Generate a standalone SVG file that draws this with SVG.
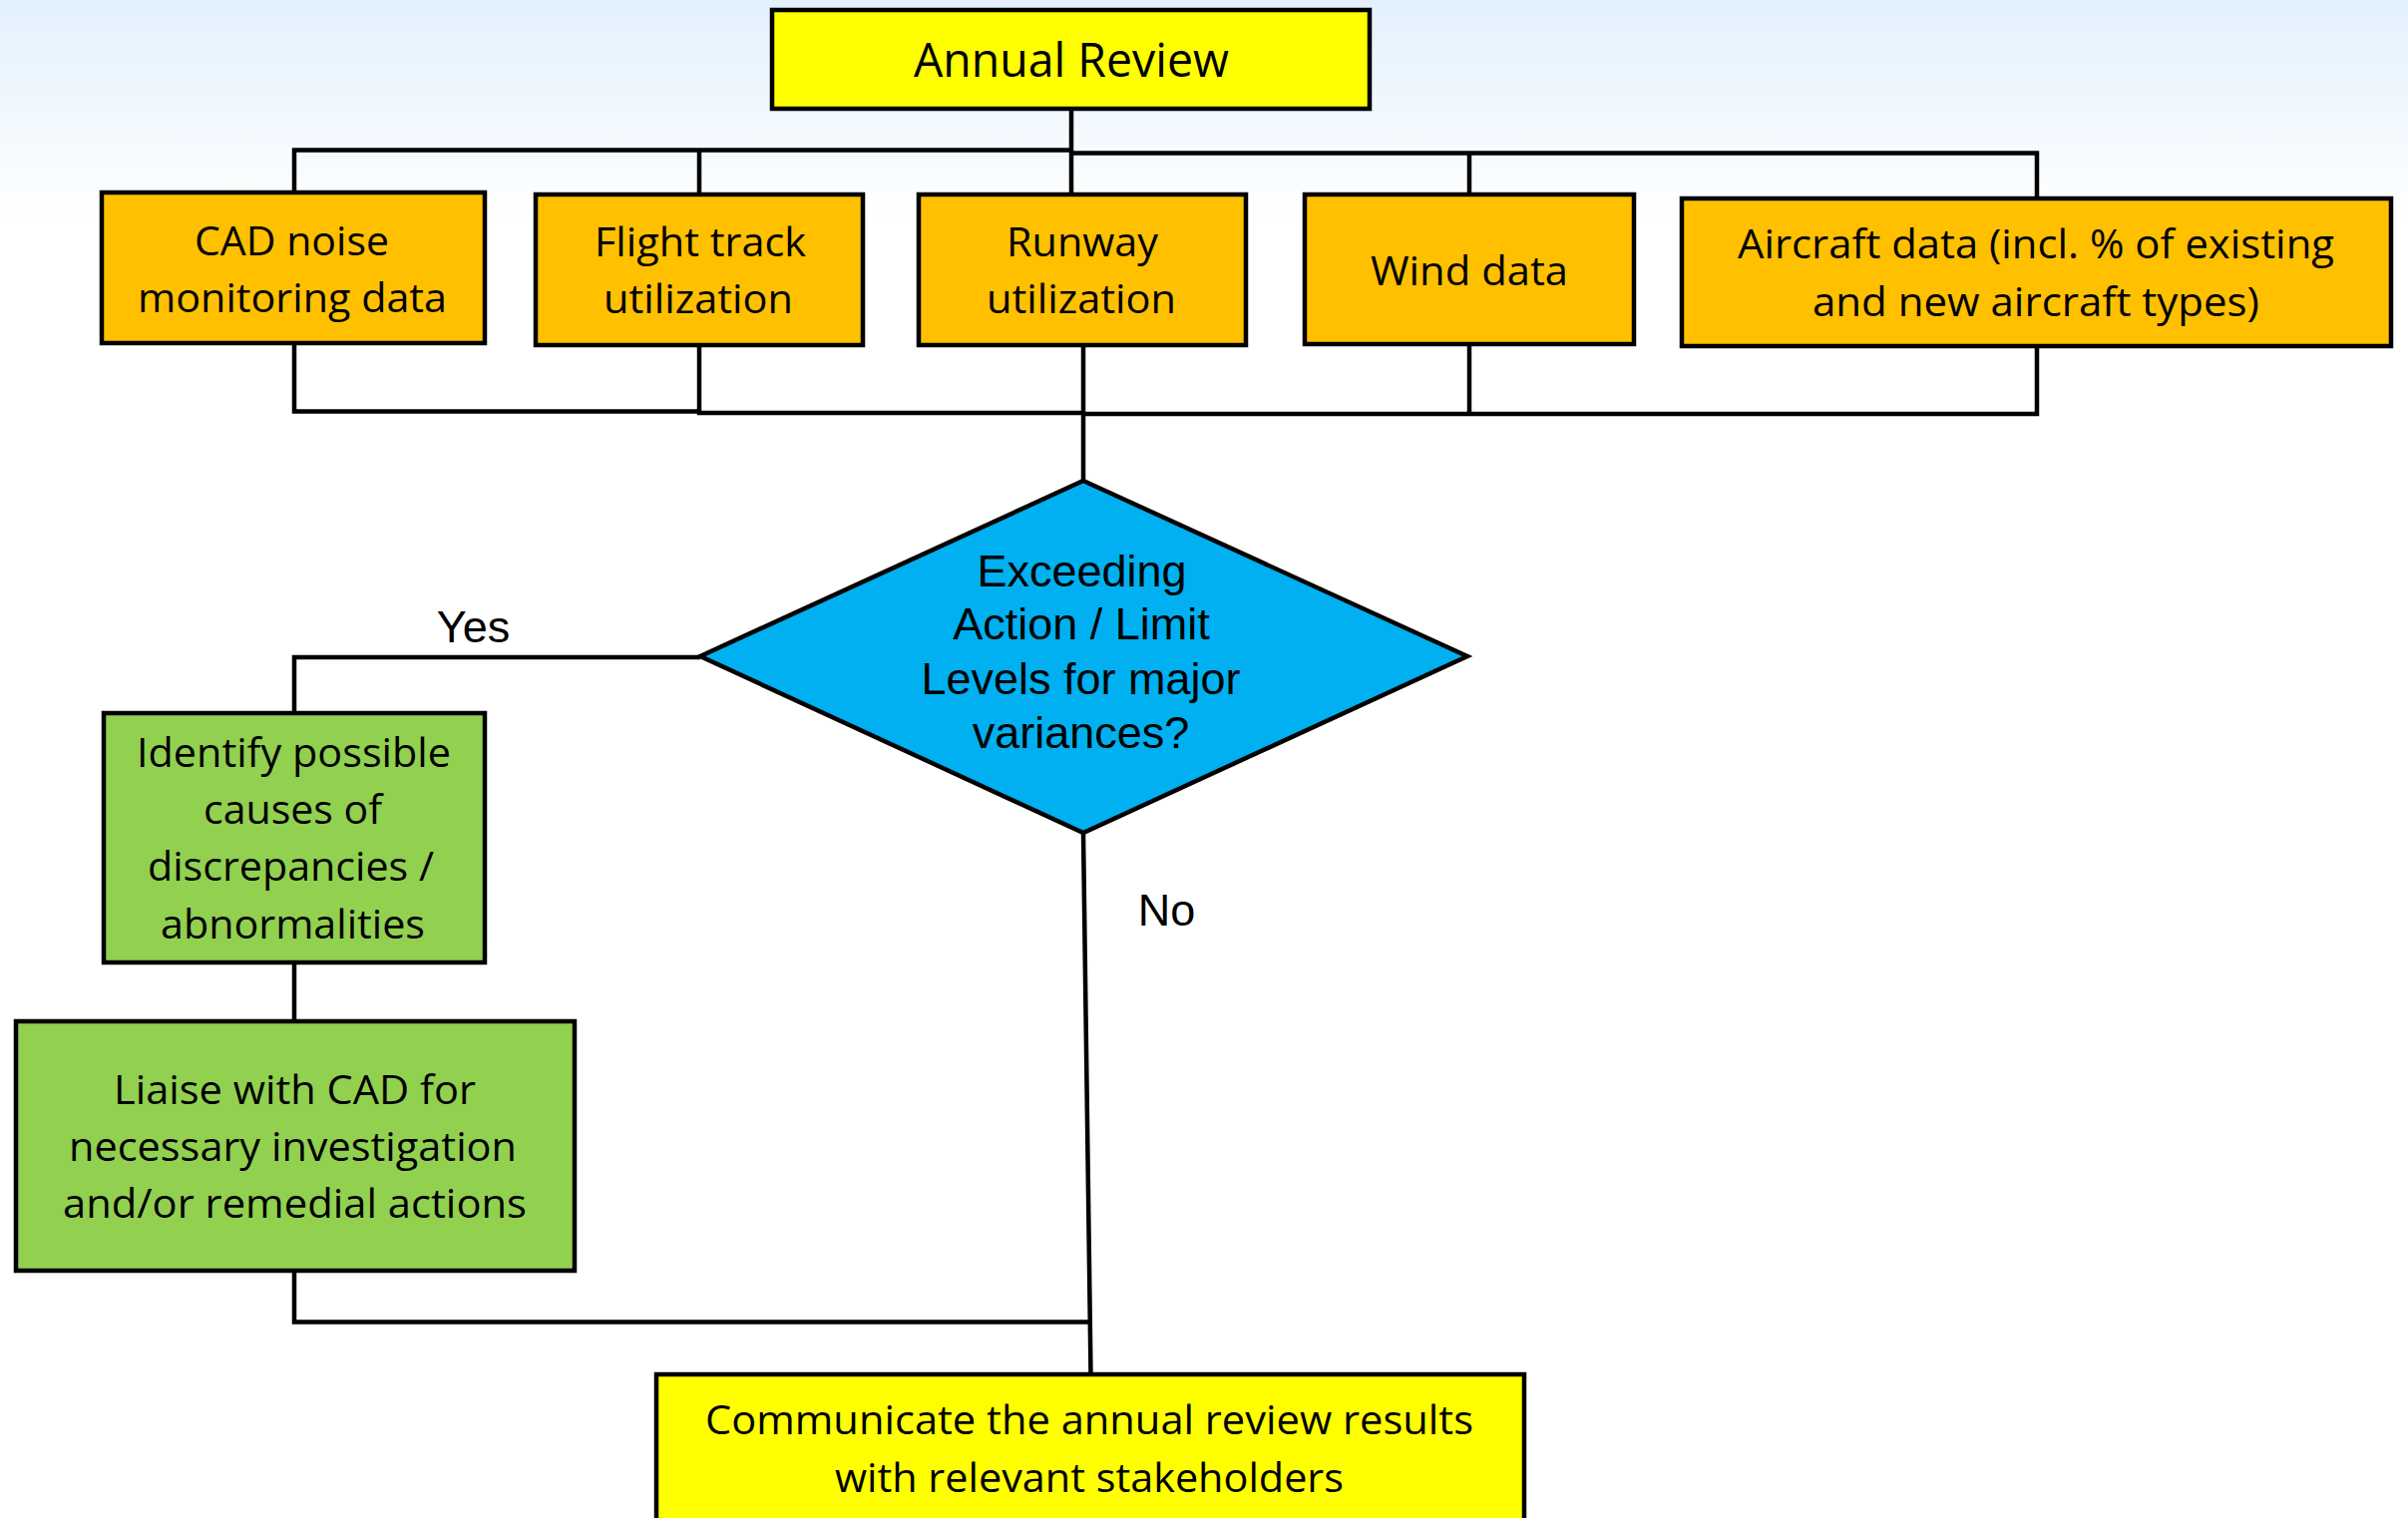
<svg xmlns="http://www.w3.org/2000/svg" width="2414" height="1522" viewBox="0 0 2414 1522">
<defs>
<linearGradient id="bg" x1="0" y1="0" x2="0" y2="220" gradientUnits="userSpaceOnUse">
<stop offset="0" stop-color="#E3F1FD"/>
<stop offset="1" stop-color="#FFFFFF"/>
</linearGradient>
<style>
.box{stroke:#000;stroke-width:4.5}
.yel{fill:#FFFF00}
.org{fill:#FFC000}
.grn{fill:#92D050}
.blu{fill:#00B0F0}
.t{font-family:"Open Sans","Noto Sans",sans-serif;font-size:40.6px;fill:#000;text-anchor:middle}
.tb{font-size:47.5px}
.a{font-family:"Liberation Sans",Arial,sans-serif;font-size:45px;fill:#000;text-anchor:middle}
.c{fill:none;stroke:#000;stroke-width:4.5;stroke-linejoin:miter}
</style>
</defs>
<rect x="0" y="0" width="2414" height="1522" fill="#FFFFFF"/>
<rect x="0" y="0" width="2414" height="220" fill="url(#bg)"/>

<g id="connectors">
<path class="c" d="M1074,109 V195"/>
<path class="c" d="M295,193 V150.5 H1074"/>
<path class="c" d="M1074,153.5 H2042 V199"/>
<path class="c" d="M701,152 V195"/>
<path class="c" d="M1473,155 V195"/>
<path class="c" d="M295,345 V412.5 H701"/>
<path class="c" d="M701,346 V414 H1086"/>
<path class="c" d="M1086,346 V482"/>
<path class="c" d="M1086,415 H2042 V347"/>
<path class="c" d="M1473,345 V415"/>
<path class="c" d="M702,659 H295 V715"/>
<path class="c" d="M295,965 V1024"/>
<path class="c" d="M295,1274 V1325.5 H1092"/>
<path class="c" d="M1086,835 L1093.5,1378"/>
<text class="a" x="474.5" y="644" font-size="44">Yes</text>
<text class="a" x="1169.5" y="928" font-size="44">No</text>
</g>

<g id="annual-review">
<rect class="box yel" x="774" y="10" width="599" height="99"/>
<text class="t tb" x="1074" y="77" textLength="316" lengthAdjust="spacingAndGlyphs">Annual Review</text>
</g>

<g id="cad-noise">
<rect class="box org" x="102" y="193" width="384" height="151"/>
<text class="t" x="292.5" y="256" textLength="195" lengthAdjust="spacingAndGlyphs">CAD noise</text>
<text class="t" x="293" y="313" textLength="310" lengthAdjust="spacingAndGlyphs">monitoring data</text>
</g>

<g id="flight-track">
<rect class="box org" x="537" y="195" width="328" height="151"/>
<text class="t" x="702" y="257" textLength="212" lengthAdjust="spacingAndGlyphs">Flight track</text>
<text class="t" x="700" y="314" textLength="190" lengthAdjust="spacingAndGlyphs">utilization</text>
</g>

<g id="runway">
<rect class="box org" x="921" y="195" width="328" height="151"/>
<text class="t" x="1085" y="257" textLength="152" lengthAdjust="spacingAndGlyphs">Runway</text>
<text class="t" x="1084" y="314" textLength="190" lengthAdjust="spacingAndGlyphs">utilization</text>
</g>

<g id="wind-data">
<rect class="box org" x="1308" y="195" width="330" height="150"/>
<text class="t" x="1473" y="286" textLength="198" lengthAdjust="spacingAndGlyphs">Wind data</text>
</g>

<g id="aircraft-data">
<rect class="box org" x="1686" y="199" width="711" height="148"/>
<text class="t" x="2041" y="259" textLength="598" lengthAdjust="spacingAndGlyphs">Aircraft data (incl. % of existing</text>
<text class="t" x="2041" y="317" textLength="448" lengthAdjust="spacingAndGlyphs">and new aircraft types)</text>
</g>

<g id="decision">
<polygon class="box blu" points="1086,482 1471,658 1086,835 702,658"/>
<text class="a" x="1084.5" y="588">Exceeding</text>
<text class="a" x="1084" y="641">Action / Limit</text>
<text class="a" x="1083.5" y="696">Levels for major</text>
<text class="a" x="1083.5" y="750">variances?</text>
</g>

<g id="identify-causes">
<rect class="box grn" x="104" y="715" width="382" height="250"/>
<text class="t" x="294.5" y="769" textLength="315" lengthAdjust="spacingAndGlyphs">Identify possible</text>
<text class="t" x="293.5" y="826" textLength="179" lengthAdjust="spacingAndGlyphs">causes of</text>
<text class="t" x="291.5" y="883" textLength="287" lengthAdjust="spacingAndGlyphs">discrepancies /</text>
<text class="t" x="293.5" y="941" textLength="265" lengthAdjust="spacingAndGlyphs">abnormalities</text>
</g>

<g id="liaise-cad">
<rect class="box grn" x="16" y="1024" width="560" height="250"/>
<text class="t" x="295.5" y="1107" textLength="363" lengthAdjust="spacingAndGlyphs">Liaise with CAD for</text>
<text class="t" x="293.5" y="1164" textLength="449" lengthAdjust="spacingAndGlyphs">necessary investigation</text>
<text class="t" x="295.5" y="1221" textLength="465" lengthAdjust="spacingAndGlyphs">and/or remedial actions</text>
</g>

<g id="communicate">
<rect class="box yel" x="658" y="1378" width="870" height="200"/>
<text class="t" x="1092" y="1438" textLength="770" lengthAdjust="spacingAndGlyphs">Communicate the annual review results</text>
<text class="t" x="1092" y="1496" textLength="510" lengthAdjust="spacingAndGlyphs">with relevant stakeholders</text>
</g>
</svg>
